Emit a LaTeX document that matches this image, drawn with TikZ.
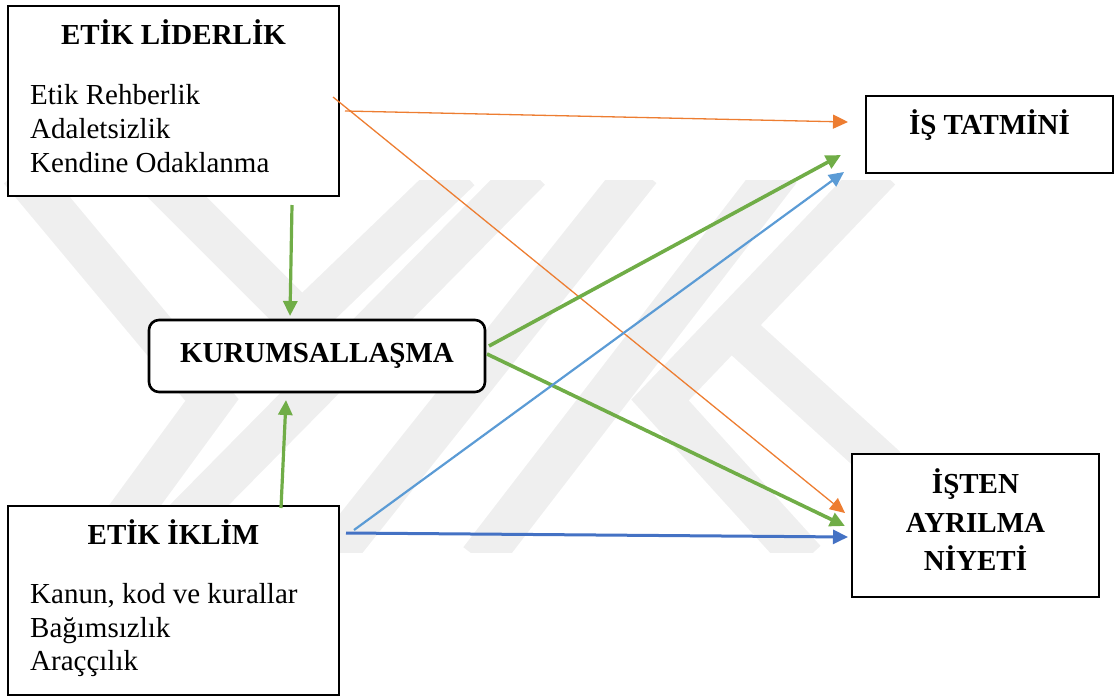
\documentclass[tikz,border=0pt]{standalone}
\usepackage{fontspec}
\setmainfont{Liberation Serif}
\usetikzlibrary{arrows.meta}
\definecolor{accOrange}{HTML}{ED7D31}
\definecolor{accGreen}{HTML}{70AD47}
\definecolor{accBlue}{HTML}{5B9BD5}
\definecolor{accDark}{HTML}{4472C4}
\definecolor{markGray}{HTML}{EFEFEF}
\begin{document}
\begin{tikzpicture}[x=1pt,y=-1pt,
  box/.style={draw=black, line width=2.6pt, fill=white, inner sep=0pt},
  ttl/.style={font=\fontsize{29}{34}\selectfont\bfseries, anchor=base, inner sep=0pt},
  itm/.style={font=\fontsize{29}{34}\selectfont, anchor=base west, inner sep=0pt},
  link/.style={-{Triangle[length=15pt,width=14pt]}},
  band/.style={draw=markGray, line width=42pt, line join=miter}
]
\useasboundingbox (0,0) rectangle (1117,697);

% faint background emblem
\begin{scope}
  \clip (0,180) rectangle (900,552);
  \draw[band] (20,170) -- (212,400) -- (95,560);
  \draw[band] (150,170) -- (302,322) -- (460,170);
  \draw[band] (145,560) -- (530,170);
  \draw[band] (330,560) -- (640,170);
  \draw[band] (480,560) -- (780,170);
  \draw[band] (880,170) -- (660,400) -- (805,560);
  \draw[band] (735,330) -- (900,480);
\end{scope}

% boxes
\node[box, minimum width=331pt, minimum height=190pt] (lid) at (173.5,101) {};
\node[box, minimum width=247pt, minimum height=77pt] (ist) at (989.5,134.5) {};
\node[box, minimum width=247pt, minimum height=143pt] (ayr) at (975.5,525.5) {};
\node[box, rounded corners=10pt, minimum width=336pt, minimum height=72pt] (kur) at (317,356) {};
\node[box, minimum width=331pt, minimum height=189pt] (ikl) at (173.5,600.5) {};

% texts
\node[ttl] (lidT) at (173.5,44) {ETİK LİDERLİK};
\node[itm] (lid1) at (30,104) {Etik Rehberlik};
\node[itm] (lid2) at (30,138) {Adaletsizlik};
\node[itm] (lid3) at (30,172) {Kendine Odaklanma};

\node[ttl] (istT) at (989.5,134) {İŞ TATMİNİ};

\node[ttl] (ayr1) at (975.5,493) {İŞTEN};
\node[ttl] (ayr2) at (975.5,532) {AYRILMA};
\node[ttl] (ayr3) at (975.5,570) {NİYETİ};

\node[ttl] (kurT) at (317,362) {KURUMSALLAŞMA};

\node[ttl] (iklT) at (173.5,544) {ETİK İKLİM};
\node[itm] (ikl1) at (30,603) {Kanun, kod ve kurallar};
\node[itm] (ikl2) at (30,637) {Bağımsızlık};
\node[itm] (ikl3) at (30,670) {Araççılık};

% connector end points
\coordinate (lidDown) at (292,205);
\coordinate (kurTop) at (290,316);
\coordinate (iklUp) at (281,508);
\coordinate (kurBot) at (286,400);
\coordinate (lidA) at (345,111);
\coordinate (lidB) at (333,97);
\coordinate (istA) at (848,122);
\coordinate (istB) at (841,155);
\coordinate (istC) at (844,172);
\coordinate (ayrA) at (845,513);
\coordinate (ayrB) at (845,526);
\coordinate (ayrC) at (848,537);
\coordinate (kurA) at (489,346);
\coordinate (kurB) at (487,354);
\coordinate (iklA) at (354,530);
\coordinate (iklB) at (346,533);

% connectors
\draw[link, accGreen, line width=3.2pt] (lidDown) -- (kurTop);
\draw[link, accGreen, line width=3.2pt] (iklUp) -- (kurBot);
\draw[link, accOrange, line width=1.3pt] (lidA) -- (istA);
\draw[link, accOrange, line width=1.3pt] (lidB) -- (ayrA);
\draw[link, accGreen, line width=3.6pt] (kurA) -- (istB);
\draw[link, accGreen, line width=3.6pt] (kurB) -- (ayrB);
\draw[link, accBlue, line width=2.2pt] (iklA) -- (istC);
\draw[link, accDark, line width=3pt] (iklB) -- (ayrC);
\end{tikzpicture}
\end{document}
